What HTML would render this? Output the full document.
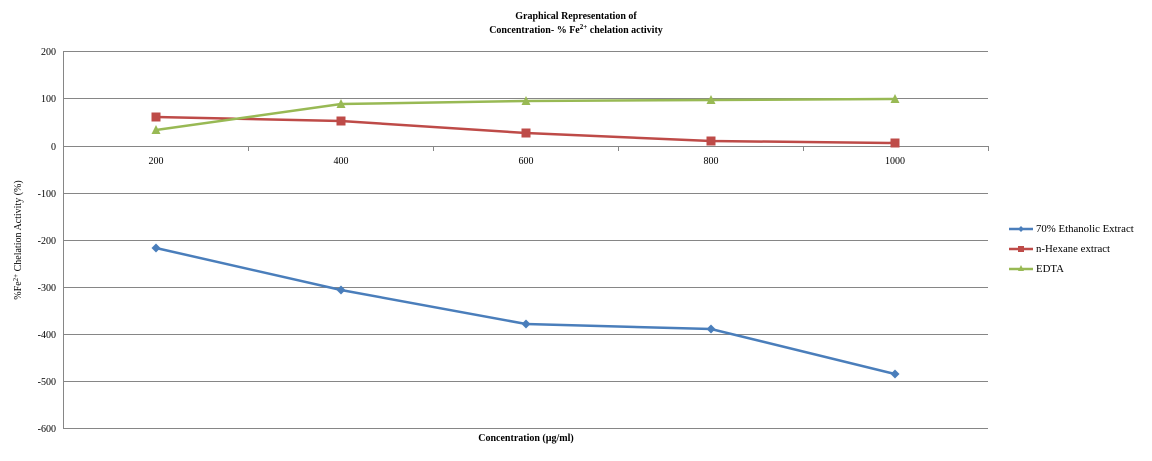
<!DOCTYPE html>
<html><head><meta charset="utf-8"><style>
body{margin:0;background:#fff;}
svg{display:block;}
text{font-family:"Liberation Serif","DejaVu Serif",serif;font-size:10px;fill:#000;}
.lg{font-size:10.8px;}
</style></head><body>
<svg width="1152" height="461" xmlns="http://www.w3.org/2000/svg">
<rect width="1152" height="461" fill="#fff"/>
<text x="576" y="19" text-anchor="middle" font-weight="bold" style="font-size:10px">Graphical Representation of</text>
<text x="576" y="33" text-anchor="middle" font-weight="bold" style="font-size:10px">Concentration- % Fe<tspan dy="-4" style="font-size:7px">2+</tspan><tspan dy="4"> chelation activity</tspan></text>
<g stroke="#868686" stroke-width="1">
<line x1="63" y1="51.5" x2="988" y2="51.5"/>
<line x1="63" y1="98.5" x2="988" y2="98.5"/>
<line x1="63" y1="193.5" x2="988" y2="193.5"/>
<line x1="63" y1="240.5" x2="988" y2="240.5"/>
<line x1="63" y1="287.5" x2="988" y2="287.5"/>
<line x1="63" y1="334.5" x2="988" y2="334.5"/>
<line x1="63" y1="381.5" x2="988" y2="381.5"/>
<line x1="63" y1="428.5" x2="988" y2="428.5"/>
<line x1="63.5" y1="51" x2="63.5" y2="429"/>
<line x1="63" y1="146.5" x2="988" y2="146.5"/>
<line x1="63.5" y1="146" x2="63.5" y2="151"/>
<line x1="248.5" y1="146" x2="248.5" y2="151"/>
<line x1="433.5" y1="146" x2="433.5" y2="151"/>
<line x1="618.5" y1="146" x2="618.5" y2="151"/>
<line x1="803.5" y1="146" x2="803.5" y2="151"/>
<line x1="988.5" y1="146" x2="988.5" y2="151"/>
</g>
<g text-anchor="end">
<text x="56" y="55">200</text><text x="56" y="102">100</text><text x="56" y="150">0</text>
<text x="56" y="197">-100</text><text x="56" y="244">-200</text><text x="56" y="291">-300</text>
<text x="56" y="338">-400</text><text x="56" y="385">-500</text><text x="56" y="432">-600</text>
</g>
<g text-anchor="middle">
<text x="156" y="164">200</text><text x="341" y="164">400</text><text x="526" y="164">600</text>
<text x="711" y="164">800</text><text x="895" y="164">1000</text>
</g>
<text x="526" y="441" text-anchor="middle" font-weight="bold">Concentration (µg/ml)</text>
<text transform="translate(21,240) rotate(-90)" text-anchor="middle">%Fe<tspan dy="-3" style="font-size:7px">2+</tspan><tspan dy="3"> Chelation Activity (%)</tspan></text>
<polyline points="156,248 341,290 526,324 711,329 895,374" fill="none" stroke="#4a7ebb" stroke-width="2.5"/>
<g fill="#4a7ebb">
<polygon points="156,243.5 160.5,248 156,252.5 151.5,248"/><polygon points="341,285.5 345.5,290 341,294.5 336.5,290"/>
<polygon points="526,319.5 530.5,324 526,328.5 521.5,324"/><polygon points="711,324.5 715.5,329 711,333.5 706.5,329"/>
<polygon points="895,369.5 899.5,374 895,378.5 890.5,374"/>
</g>
<polyline points="156,117 341,121 526,133 711,141 895,143" fill="none" stroke="#be4b48" stroke-width="2.5"/>
<g fill="#be4b48">
<rect x="151.5" y="112.5" width="9" height="9"/><rect x="336.5" y="116.5" width="9" height="9"/>
<rect x="521.5" y="128.5" width="9" height="9"/><rect x="706.5" y="136.5" width="9" height="9"/>
<rect x="890.5" y="138.5" width="9" height="9"/>
</g>
<polyline points="156,130 341,104 526,101 711,100 895,99" fill="none" stroke="#98b954" stroke-width="2.5"/>
<g fill="#98b954">
<polygon points="156,125 160.5,134 151.5,134"/><polygon points="341,99 345.5,108 336.5,108"/>
<polygon points="526,96 530.5,105 521.5,105"/><polygon points="711,95 715.5,104 706.5,104"/>
<polygon points="895,94 899.5,103 890.5,103"/>
</g>
<line x1="1009" y1="229" x2="1033" y2="229" stroke="#4a7ebb" stroke-width="2.5"/>
<polygon points="1021,226 1024,229 1021,232 1018,229" fill="#4a7ebb"/>
<text class="lg" x="1036" y="232">70% Ethanolic Extract</text>
<line x1="1009" y1="249" x2="1033" y2="249" stroke="#be4b48" stroke-width="2.5"/>
<rect x="1018" y="246" width="6" height="6" fill="#be4b48"/>
<text class="lg" x="1036" y="252">n-Hexane extract</text>
<line x1="1009" y1="269" x2="1033" y2="269" stroke="#98b954" stroke-width="2.5"/>
<polygon points="1021,265 1024,271 1018,271" fill="#98b954"/>
<text class="lg" x="1036" y="272">EDTA</text>
</svg>
</body></html>
